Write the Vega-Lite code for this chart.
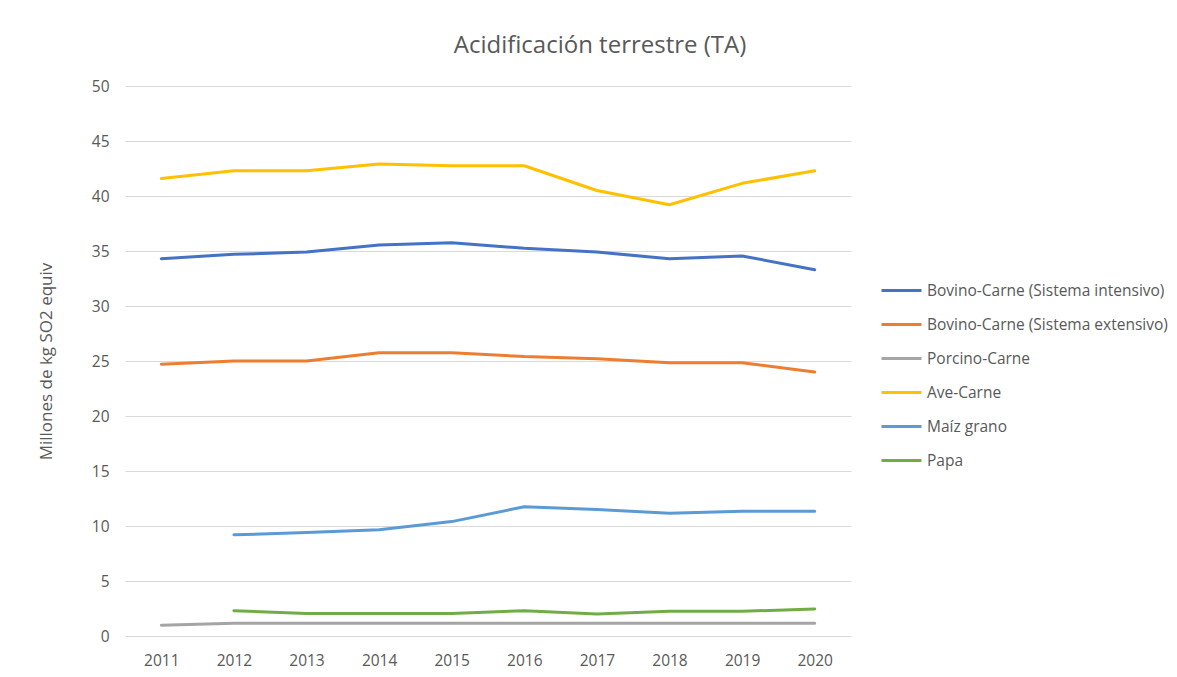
{
  "$schema": "https://vega.github.io/schema/vega-lite/v6.json",
  "autosize": "none",
  "padding": {"left": 125, "top": 86, "right": 326, "bottom": 41},
  "width": 726,
  "height": 550,
  "background": "white",
  "config": {
    "view": {"stroke": null},
    "font": "Open Sans"
  },
  "title": {
    "text": "Acidificación terrestre (TA)",
    "anchor": "middle",
    "dx": 112,
    "offset": 21,
    "fontSize": 24,
    "fontWeight": "normal",
    "color": "#595959",
    "font": "Open Sans"
  },
  "data": {
    "values": [
      {"year": "2011", "serie": "Bovino-Carne (Sistema intensivo)", "value": 34.3},
      {"year": "2012", "serie": "Bovino-Carne (Sistema intensivo)", "value": 34.7},
      {"year": "2013", "serie": "Bovino-Carne (Sistema intensivo)", "value": 34.9},
      {"year": "2014", "serie": "Bovino-Carne (Sistema intensivo)", "value": 35.55},
      {"year": "2015", "serie": "Bovino-Carne (Sistema intensivo)", "value": 35.75},
      {"year": "2016", "serie": "Bovino-Carne (Sistema intensivo)", "value": 35.25},
      {"year": "2017", "serie": "Bovino-Carne (Sistema intensivo)", "value": 34.9},
      {"year": "2018", "serie": "Bovino-Carne (Sistema intensivo)", "value": 34.3},
      {"year": "2019", "serie": "Bovino-Carne (Sistema intensivo)", "value": 34.55},
      {"year": "2020", "serie": "Bovino-Carne (Sistema intensivo)", "value": 33.3},
      {"year": "2011", "serie": "Bovino-Carne (Sistema extensivo)", "value": 24.7},
      {"year": "2012", "serie": "Bovino-Carne (Sistema extensivo)", "value": 25.0},
      {"year": "2013", "serie": "Bovino-Carne (Sistema extensivo)", "value": 25.0},
      {"year": "2014", "serie": "Bovino-Carne (Sistema extensivo)", "value": 25.75},
      {"year": "2015", "serie": "Bovino-Carne (Sistema extensivo)", "value": 25.75},
      {"year": "2016", "serie": "Bovino-Carne (Sistema extensivo)", "value": 25.4},
      {"year": "2017", "serie": "Bovino-Carne (Sistema extensivo)", "value": 25.2},
      {"year": "2018", "serie": "Bovino-Carne (Sistema extensivo)", "value": 24.85},
      {"year": "2019", "serie": "Bovino-Carne (Sistema extensivo)", "value": 24.85},
      {"year": "2020", "serie": "Bovino-Carne (Sistema extensivo)", "value": 24.0},
      {"year": "2011", "serie": "Porcino-Carne", "value": 0.97},
      {"year": "2012", "serie": "Porcino-Carne", "value": 1.15},
      {"year": "2013", "serie": "Porcino-Carne", "value": 1.15},
      {"year": "2014", "serie": "Porcino-Carne", "value": 1.15},
      {"year": "2015", "serie": "Porcino-Carne", "value": 1.15},
      {"year": "2016", "serie": "Porcino-Carne", "value": 1.15},
      {"year": "2017", "serie": "Porcino-Carne", "value": 1.15},
      {"year": "2018", "serie": "Porcino-Carne", "value": 1.15},
      {"year": "2019", "serie": "Porcino-Carne", "value": 1.15},
      {"year": "2020", "serie": "Porcino-Carne", "value": 1.15},
      {"year": "2011", "serie": "Ave-Carne", "value": 41.6},
      {"year": "2012", "serie": "Ave-Carne", "value": 42.3},
      {"year": "2013", "serie": "Ave-Carne", "value": 42.3},
      {"year": "2014", "serie": "Ave-Carne", "value": 42.9},
      {"year": "2015", "serie": "Ave-Carne", "value": 42.75},
      {"year": "2016", "serie": "Ave-Carne", "value": 42.75},
      {"year": "2017", "serie": "Ave-Carne", "value": 40.5},
      {"year": "2018", "serie": "Ave-Carne", "value": 39.2},
      {"year": "2019", "serie": "Ave-Carne", "value": 41.15},
      {"year": "2020", "serie": "Ave-Carne", "value": 42.3},
      {"year": "2012", "serie": "Maíz grano", "value": 9.2},
      {"year": "2013", "serie": "Maíz grano", "value": 9.4},
      {"year": "2014", "serie": "Maíz grano", "value": 9.65},
      {"year": "2015", "serie": "Maíz grano", "value": 10.4},
      {"year": "2016", "serie": "Maíz grano", "value": 11.75},
      {"year": "2017", "serie": "Maíz grano", "value": 11.5},
      {"year": "2018", "serie": "Maíz grano", "value": 11.15},
      {"year": "2019", "serie": "Maíz grano", "value": 11.35},
      {"year": "2020", "serie": "Maíz grano", "value": 11.35},
      {"year": "2012", "serie": "Papa", "value": 2.3},
      {"year": "2013", "serie": "Papa", "value": 2.05},
      {"year": "2014", "serie": "Papa", "value": 2.05},
      {"year": "2015", "serie": "Papa", "value": 2.05},
      {"year": "2016", "serie": "Papa", "value": 2.3},
      {"year": "2017", "serie": "Papa", "value": 2.0},
      {"year": "2018", "serie": "Papa", "value": 2.25},
      {"year": "2019", "serie": "Papa", "value": 2.25},
      {"year": "2020", "serie": "Papa", "value": 2.45}
    ]
  },
  "mark": {"type": "line", "strokeWidth": 3, "strokeCap": "round", "strokeJoin": "round"},
  "encoding": {
    "x": {
      "field": "year",
      "type": "ordinal",
      "scale": {"type": "point", "padding": 0.5},
      "axis": {
        "title": null,
        "labelAngle": 0,
        "domain": false,
        "ticks": false,
        "grid": false,
        "labelPadding": 17,
        "labelFontSize": 15.5,
        "labelColor": "#595959",
        "labelFont": "Open Sans"
      }
    },
    "y": {
      "field": "value",
      "type": "quantitative",
      "scale": {"domain": [0, 50], "nice": false},
      "axis": {
        "values": [0, 5, 10, 15, 20, 25, 30, 35, 40, 45, 50],
        "title": "Millones de kg SO2 equiv",
        "titleFontSize": 17,
        "titleFontWeight": "normal",
        "titleColor": "#595959",
        "titleFont": "Open Sans",
        "titlePadding": 36,
        "domain": false,
        "ticks": false,
        "labelPadding": 16,
        "labelFontSize": 15.5,
        "labelColor": "#595959",
        "labelFont": "Open Sans",
        "gridColor": "#d9d9d9",
        "gridWidth": 1
      }
    },
    "color": {
      "field": "serie",
      "type": "nominal",
      "scale": {
        "domain": ["Bovino-Carne (Sistema intensivo)", "Bovino-Carne (Sistema extensivo)", "Porcino-Carne", "Ave-Carne", "Maíz grano", "Papa"],
        "range": ["#4472C4", "#ED7D31", "#A5A5A5", "#FFC000", "#5B9BD5", "#70AD47"]
      },
      "legend": {
        "title": null,
        "orient": "none",
        "legendX": 755,
        "legendY": 183,
        "symbolType": "stroke",
        "symbolSize": 1600,
        "symbolStrokeWidth": 3,
        "labelFontSize": 15.5,
        "labelColor": "#595959",
        "labelFont": "Open Sans",
        "labelOffset": 4,
        "rowPadding": 4,
        "labelLimit": 400
      }
    }
  }
}
